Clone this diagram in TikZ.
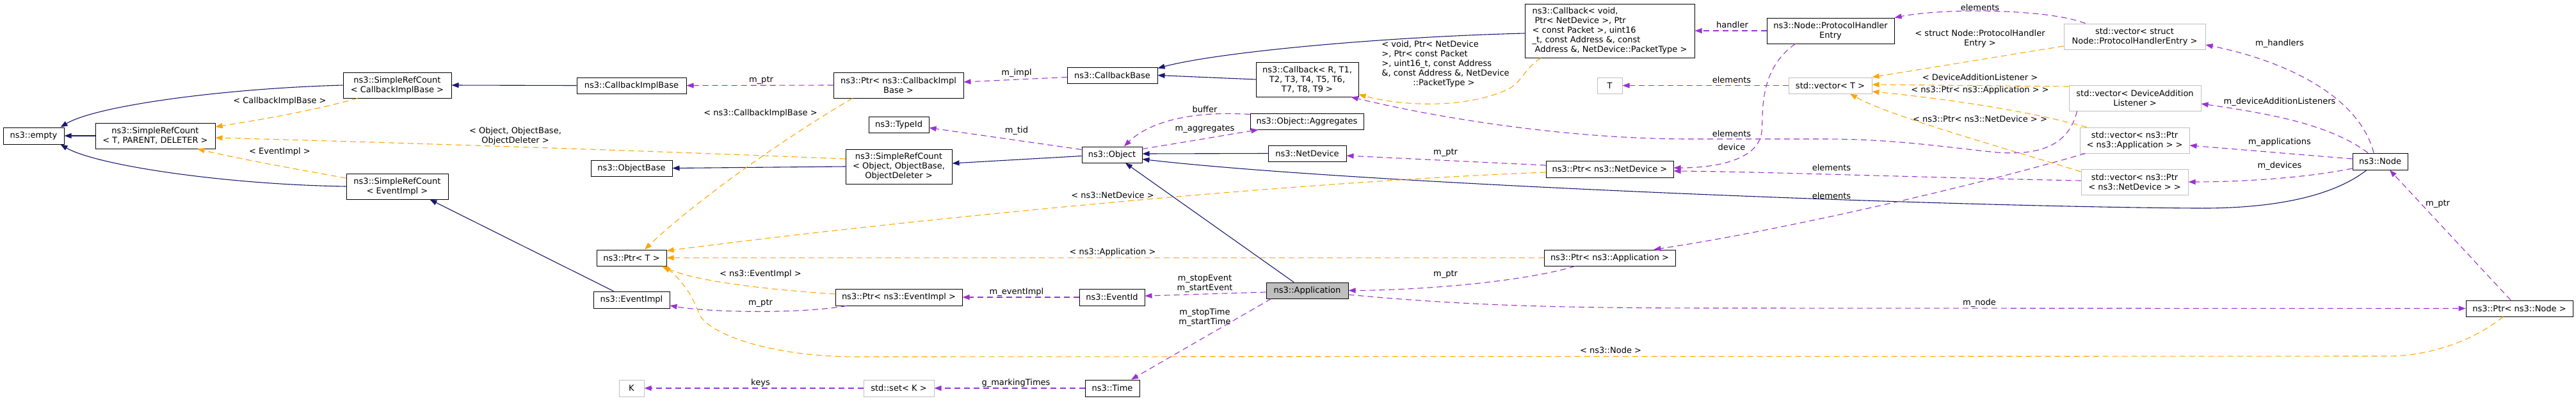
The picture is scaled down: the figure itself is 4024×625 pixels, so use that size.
\documentclass[tikz,border=0pt]{standalone}
\usepackage{fontspec}
\setmainfont{DejaVu Sans}
\usetikzlibrary{arrows.meta}
\definecolor{navy}{HTML}{191970}
\definecolor{purp}{HTML}{9A32CD}
\definecolor{orng}{HTML}{FFA500}
\definecolor{grey75}{HTML}{BFBFBF}
\begin{document}
\begin{tikzpicture}[x=1pt,y=-1pt,
  every node/.style={font=\fontsize{13}{15}\selectfont},
  box/.style={draw=black, line width=1pt, fill=white, inner sep=0pt, align=center},
  gbox/.style={box, draw=grey75},
  tip/.style={-{Triangle[length=11pt,width=8pt]}},
  inh/.style={navy, line width=1.1pt, tip},
  use/.style={purp, line width=1.1pt, dash pattern=on 9pt off 6pt, tip},
  tmpl/.style={orng, line width=1.1pt, dash pattern=on 9pt off 6pt, tip},
  lbl/.style={inner sep=0pt, align=center}
]
\useasboundingbox[fill=white] (0,0) rectangle (4024,625);

% ---------- nodes ----------
\node[box, minimum width=95pt, minimum height=26pt] (nEmpty) at (52.5,212) {ns3::empty};
\node[box, minimum width=187pt, minimum height=40pt] (nSrcTPD) at (242.5,212) {ns3::SimpleRefCount\\< T, PARENT, DELETER >};
\node[box, minimum width=169pt, minimum height=40pt] (nSrcCIB) at (620.5,133) {ns3::SimpleRefCount\\< CallbackImplBase >};
\node[box, minimum width=159pt, minimum height=40pt] (nSrcEI) at (620.5,291) {ns3::SimpleRefCount\\< EventImpl >};
\node[box, minimum width=171pt, minimum height=25pt] (nCIB) at (986.5,133.5) {ns3::CallbackImplBase};
\node[box, minimum width=127pt, minimum height=25pt] (nObjBase) at (986.5,262.5) {ns3::ObjectBase};
\node[box, minimum width=109pt, minimum height=25pt] (nPtrT) at (986.5,402.5) {ns3::Ptr< T >};
\node[box, minimum width=119pt, minimum height=26pt] (nEventImpl) at (986.5,468) {ns3::EventImpl};
\node[gbox, minimum width=39pt, minimum height=26pt] (nK) at (986.5,606) {K};
\node[box, minimum width=203pt, minimum height=40pt] (nPtrCIB) at (1403.5,133) {ns3::Ptr< ns3::CallbackImpl\\Base >};
\node[box, minimum width=94pt, minimum height=25pt] (nTypeId) at (1404,194.5) {ns3::TypeId};
\node[box, minimum width=166pt, minimum height=54pt] (nSrcObj) at (1404,260) {ns3::SimpleRefCount\\< Object, ObjectBase,\\ObjectDeleter >};
\node[box, minimum width=198pt, minimum height=26pt] (nPtrEI) at (1404,464) {ns3::Ptr< ns3::EventImpl >};
\node[gbox, minimum width=110pt, minimum height=26pt] (nSet) at (1404,606) {std::set< K >};
\node[box, minimum width=141pt, minimum height=25pt] (nCBBase) at (1737.5,117.5) {ns3::CallbackBase};
\node[box, minimum width=94pt, minimum height=25pt] (nObject) at (1737,241.5) {ns3::Object};
\node[box, minimum width=102pt, minimum height=26pt] (nEventId) at (1737,464) {ns3::EventId};
\node[box, minimum width=85pt, minimum height=26pt] (nTime) at (1737.5,606) {ns3::Time};
\node[box, minimum width=177pt, minimum height=25pt] (nAggr) at (2041.5,189.5) {ns3::Object::Aggregates};
\node[box, minimum width=160pt, minimum height=54pt] (nCbR) at (2042,124) {ns3::Callback< R, T1,\\T2, T3, T4, T5, T6,\\T7, T8, T9 >};
\node[box, minimum width=122pt, minimum height=25pt] (nNetDev) at (2042,239.5) {ns3::NetDevice};
\node[box, fill=grey75, minimum width=128pt, minimum height=25pt] (nApp) at (2042,453.5) {ns3::Application};
\node[box, align=left, minimum width=265pt, minimum height=84pt] (nCbVoid) at (2514.5,48) {ns3::Callback< void,\\\hspace*{4pt}Ptr< NetDevice >, Ptr\\< const Packet >, uint16\\\_t, const Address \&, const\\\hspace*{4pt}Address \&, NetDevice::PacketType >};
\node[gbox, minimum width=39pt, minimum height=25pt] (nT) at (2514.5,133.5) {T};
\node[box, minimum width=199pt, minimum height=26pt] (nPtrND) at (2514.5,264) {ns3::Ptr< ns3::NetDevice >};
\node[box, minimum width=205pt, minimum height=25pt] (nPtrApp) at (2514.5,402.5) {ns3::Ptr< ns3::Application >};
\node[box, minimum width=199pt, minimum height=40pt] (nPHE) at (2859.5,48) {ns3::Node::ProtocolHandler\\Entry};
\node[gbox, minimum width=130pt, minimum height=25pt] (nVecT) at (2859,133.5) {std::vector< T >};
\node[gbox, minimum width=221pt, minimum height=40pt] (nVecPHE) at (3334.5,57) {std::vector< struct\\Node::ProtocolHandlerEntry >};
\node[gbox, minimum width=206pt, minimum height=40pt] (nVecDAL) at (3335,153) {std::vector< DeviceAddition\\Listener >};
\node[gbox, minimum width=171pt, minimum height=40pt] (nVecApp) at (3334.5,219) {std::vector< ns3::Ptr\\< ns3::Application > >};
\node[gbox, minimum width=167pt, minimum height=40pt] (nVecND) at (3334.5,284) {std::vector< ns3::Ptr\\< ns3::NetDevice > >};
\node[box, minimum width=86pt, minimum height=26pt] (nNode) at (3718,252) {ns3::Node};
\node[box, minimum width=167pt, minimum height=25pt] (nPtrNode) at (3935.5,481.5) {ns3::Ptr< ns3::Node >};

% ---------- inheritance ----------
\draw[inh] (nSrcCIB.west) .. controls (350,138) and (150,165) .. ([xshift=-6pt]nEmpty.north east);
\draw[inh] (nSrcTPD.west) -- (nEmpty.east);
\draw[inh] (nSrcEI.west) .. controls (350,288) and (150,258) .. ([xshift=-6pt]nEmpty.south east);
\draw[inh] (nCIB.west) -- (nSrcCIB.east);
\draw[inh] ([xshift=-28pt]nEventImpl.north) -- ([xshift=51pt]nSrcEI.south);
\draw[inh] (nSrcObj.west) -- (nObjBase.east);
\draw[inh] ([yshift=-4pt]nCbVoid.west) .. controls (2150,58) and (1900,82) .. ([yshift=-2pt]nCBBase.north east);
\draw[inh] (nCbR.west) -- (nCBBase.east);
\draw[inh] ([yshift=-2pt]nObject.west) -- ([yshift=5pt]nSrcObj.east);
\draw[inh] (nNetDev.west) -- ([yshift=1.5pt]nObject.east);
\draw[inh] ([xshift=-21pt]nNode.south) .. controls (3640,310) and (3540,326) .. (3430,325) .. controls (3000,322) and (2100,285) .. ([yshift=-7pt]nObject.east);
\draw[inh] ([xshift=-21pt]nApp.north) -- ([xshift=21pt]nObject.south);

% ---------- usage ----------
\draw[use] (nPtrCIB.west) -- (nCIB.east);
\draw[use] ([yshift=-3pt]nCBBase.west) -- ([yshift=5pt]nPtrCIB.east);
\draw[use] ([yshift=-5pt]nObject.north west) -- ([yshift=-5pt]nTypeId.east);
\draw[use] ([yshift=-2pt]nAggr.north west) .. controls (1850,172) and (1790,195) .. ([xshift=19pt]nObject.north);
\draw[use] ([yshift=-4pt]nObject.north east) .. controls (1850,222) and (1920,210) .. ([xshift=13pt]nAggr.south west);
\draw[use] ([yshift=6pt]nPtrND.west) -- ([yshift=-3.5pt]nNetDev.east);
\draw[use] ([xshift=18pt]nPtrEI.south west) .. controls (1250,490) and (1110,488) .. ([yshift=-9pt]nEventImpl.east);
\draw[use] (nEventId.west) -- (nPtrEI.east);
\draw[use] ([yshift=-2.5pt]nApp.west) -- ([yshift=2pt]nEventId.east);
\draw[use] ([xshift=8pt]nApp.south west) -- ([xshift=29.5pt]nTime.north);
\draw[use] (nTime.west) -- (nSet.east);
\draw[use] (nSet.west) -- (nK.east);
\draw[use] ([xshift=49pt]nPtrApp.south west) .. controls (2380,440) and (2220,453) .. (nApp.east);
\draw[use] ([yshift=-6.5pt]nApp.east) .. controls (2300,478) and (2450,481) .. (2700,481) -- (nPtrNode.west);
\draw[use] ([xshift=-13.5pt]nPtrNode.north) -- ([xshift=15pt]nNode.south);
\draw[use] (nPHE.west) -- (nCbVoid.east);
\draw[use] ([xshift=34pt]nVecPHE.north west) .. controls (3200,14) and (3040,12) .. (nPHE.north east);
\draw[use] (nVecT.west) -- (nT.east);
\draw[use] ([xshift=13pt]nVecDAL.south west) .. controls (3232,225) and (3190,243) .. (3120,238) .. controls (3040,230) and (2960,217) .. (2850,217) -- (2640,217) .. controls (2450,217) and (2250,185) .. ([xshift=-12pt]nCbR.south east);
\draw[use] ([xshift=45pt]nPHE.south west) .. controls (2745,110) and (2755,180) .. (2752,205) .. controls (2748,250) and (2680,262) .. ([yshift=2pt]nPtrND.east);
\draw[use] ([yshift=2pt]nVecND.west) .. controls (3000,277) and (2750,268) .. ([yshift=-3pt]nPtrND.east);
\draw[use] ([xshift=9pt]nVecApp.south west) .. controls (3050,300) and (2750,365) .. ([xshift=-34pt]nPtrApp.north east);
\draw[use] ([xshift=-10pt]nNode.north) .. controls (3685,150) and (3570,95) .. ([yshift=-13pt]nVecPHE.east);
\draw[use] ([xshift=-19pt]nNode.north) .. controls (3640,195) and (3550,178) .. ([yshift=-9pt]nVecDAL.east);
\draw[use] ([yshift=4pt]nNode.west) -- ([yshift=-8pt]nVecApp.east);
\draw[use] ([yshift=-11pt]nNode.west) .. controls (3600,278) and (3500,284) .. (nVecND.east);

% ---------- template instances ----------
\draw[tmpl] ([xshift=23pt]nSrcCIB.south west) .. controls (480,175) and (400,188) .. ([yshift=14pt]nSrcTPD.east);
\draw[tmpl] ([yshift=12pt]nSrcObj.west) .. controls (1000,235) and (600,222) .. ([yshift=-3pt]nSrcTPD.east);
\draw[tmpl] ([yshift=13pt]nSrcEI.west) .. controls (450,262) and (360,245) .. ([xshift=-28pt]nSrcTPD.south east);
\draw[tmpl] ([xshift=30pt]nPtrCIB.south west) .. controls (1210,225) and (1080,320) .. ([xshift=20.5pt]nPtrT.north);
\draw[tmpl] ([yshift=-5pt]nPtrND.west) .. controls (2000,285) and (1400,345) .. ([yshift=-2pt]nPtrT.north east);
\draw[tmpl] (nPtrApp.west) -- (nPtrT.east);
\draw[tmpl] ([yshift=5pt]nPtrEI.west) .. controls (1200,452) and (1090,440) .. ([xshift=-8pt]nPtrT.south east);
\draw[tmpl] ([xshift=-25.5pt]nPtrNode.south) .. controls (3860,535) and (3790,556) .. (3730,556) -- (1340,557) .. controls (1200,557) and (1105,520) .. (1092,490) .. controls (1082,460) and (1060,432) .. ([xshift=-5pt]nPtrT.south east);
\draw[tmpl] ([xshift=25pt]nCbVoid.south west) .. controls (2380,110) and (2378,125) .. (2360,137) .. controls (2300,168) and (2200,168) .. ([yshift=4pt]nCbR.south east);
\draw[tmpl] ([yshift=-15pt]nVecPHE.west) -- (nVecT.north east);
\draw[tmpl] ([yshift=18pt]nVecDAL.west) -- ([yshift=1.5pt]nVecT.east);
\draw[tmpl] ([xshift=11pt]nVecApp.north west) .. controls (3150,168) and (3000,150) .. ([yshift=-9.5pt]nVecT.east);
\draw[tmpl] ([yshift=16pt]nVecND.west) .. controls (3100,222) and (2950,180) .. ([xshift=31pt]nVecT.south);

% ---------- labels ----------
\node[lbl] (l1) at (437,158) {< CallbackImplBase >};
\node[lbl] (l2) at (805,212) {< Object, ObjectBase,\\ObjectDeleter >};
\node[lbl] (l3) at (437,237) {< EventImpl >};
\node[lbl] (l4) at (1189,125) {m\_ptr};
\node[lbl] (l5) at (1188,177) {< ns3::CallbackImplBase >};
\node[lbl] (l6) at (1188,428) {< ns3::EventImpl >};
\node[lbl] (l7) at (1188,473) {m\_ptr};
\node[lbl] (l8) at (1188,598) {keys};
\node[lbl] (l9) at (1588,114) {m\_impl};
\node[lbl] (l10) at (1588,204) {m\_tid};
\node[lbl] (l11) at (1882,171) {buffer};
\node[lbl] (l12) at (1882,201) {m\_aggregates};
\node[lbl] (l13) at (1738,305) {< ns3::NetDevice >};
\node[lbl] (l14) at (1738,394) {< ns3::Application >};
\node[lbl] (l15) at (1588,456) {m\_eventImpl};
\node[lbl] (l16) at (1882,443) {m\_stopEvent\\m\_startEvent};
\node[lbl] (l17) at (1882,496) {m\_stopTime\\m\_startTime};
\node[lbl] (l18) at (1587,598) {g\_markingTimes};
\node[lbl, align=left] (l19) at (2258,100) {< void, Ptr< NetDevice\\>, Ptr< const Packet\\>, uint16\_t, const Address\\\&, const Address \&, NetDevice\\\hspace*{49pt}::PacketType >};
\node[lbl] (l20) at (2258,238) {m\_ptr};
\node[lbl] (l21) at (2258,428) {m\_ptr};
\node[lbl] (l22) at (2516,547) {< ns3::Node >};
\node[lbl] (l23) at (2706,39) {handler};
\node[lbl] (l24) at (3093,12) {elements};
\node[lbl] (l25) at (3093,60) {< struct Node::ProtocolHandler\\Entry >};
\node[lbl] (l26) at (2705,125) {elements};
\node[lbl] (l27) at (3093,121) {< DeviceAdditionListener >};
\node[lbl] (l28) at (3093,141) {< ns3::Ptr< ns3::Application > >};
\node[lbl] (l29) at (3093,186) {< ns3::Ptr< ns3::NetDevice > >};
\node[lbl] (l30) at (2705,209) {elements};
\node[lbl] (l31) at (2705,230) {device};
\node[lbl] (l32) at (2861,262) {elements};
\node[lbl] (l33) at (2861,306) {elements};
\node[lbl] (l34) at (3092,473) {m\_node};
\node[lbl] (l35) at (3561,68) {m\_handlers};
\node[lbl] (l36) at (3561,159) {m\_deviceAdditionListeners};
\node[lbl] (l37) at (3561,222) {m\_applications};
\node[lbl] (l38) at (3561,259) {m\_devices};
\node[lbl] (l39) at (3808,318) {m\_ptr};
\end{tikzpicture}
\end{document}
